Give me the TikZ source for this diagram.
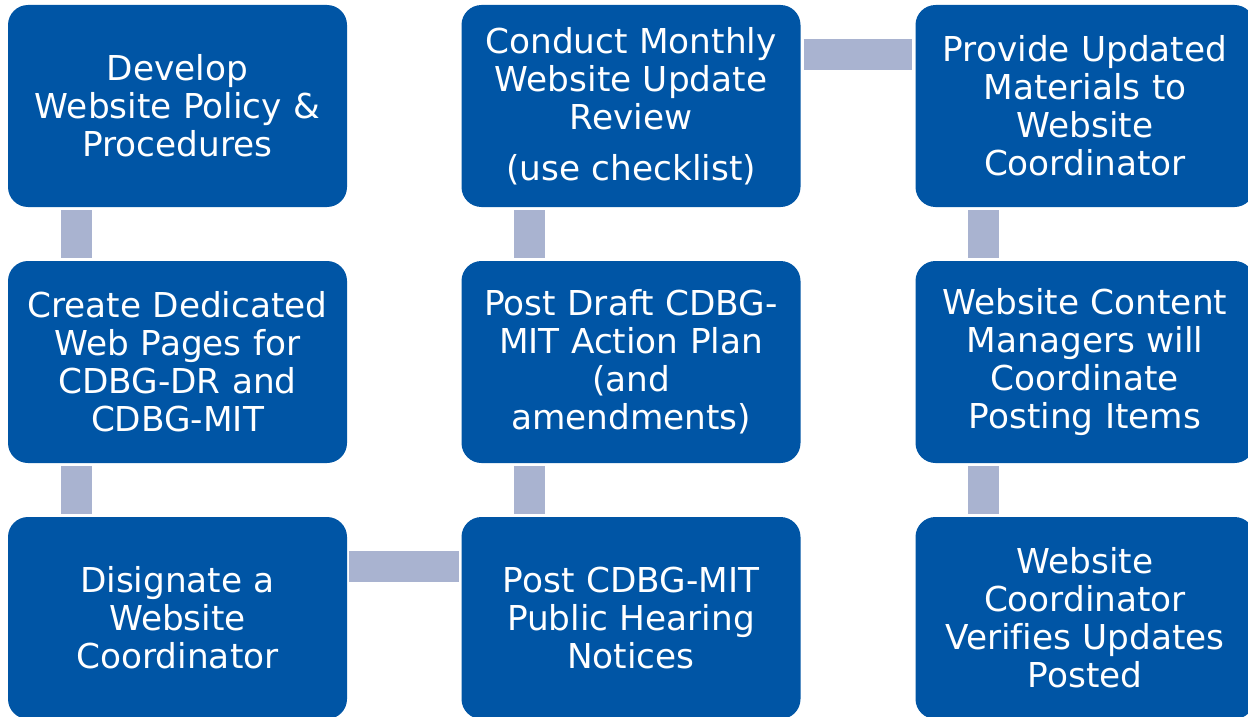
\documentclass[tikz,border=0pt]{standalone}
\usepackage{fontspec}
\setmainfont{DejaVu Sans}[Ligatures=NoCommon]
\definecolor{boxblue}{RGB}{0,85,165}
\definecolor{connblue}{RGB}{169,179,208}
\tikzset{
  stepbox/.style={rectangle, rounded corners=20pt, fill=boxblue, draw=none,
    minimum width=339pt, minimum height=202pt, inner sep=0pt,
    text=white, text width=336pt, align=center,
    font=\fontsize{34.3}{38}\selectfont},
  conn/.style={draw=connblue, line width=31pt}
}
\begin{document}
\begin{tikzpicture}[x=1pt,y=-1pt]
\useasboundingbox (0,0) rectangle (1248,717);
\clip (0,0) rectangle (1248,717);
\node[stepbox] (a1) at (177.5,106) {Develop\\Website Policy \&\\Procedures};
\node[stepbox] (a2) at (177.5,362) {Create Dedicated\\Web Pages for\\CDBG-DR and\\CDBG-MIT};
\node[stepbox] (a3) at (177.5,618) {Disignate a\\Website\\Coordinator};
\node[stepbox] (b1) at (631,106) {Conduct Monthly\\Website Update\\Review\\[13pt](use checklist)};
\node[stepbox] (b2) at (631,362) {Post Draft CDBG-\\MIT Action Plan\\(and\\amendments)};
\node[stepbox] (b3) at (631,618) {Post CDBG-MIT\\Public Hearing\\Notices};
\node[stepbox] (c1) at (1085,106) {Provide Updated\\Materials to\\Website\\Coordinator};
\node[stepbox] (c2) at (1085,362) {Website Content\\Managers will\\Coordinate\\Posting Items};
\node[stepbox] (c3) at (1085,618) {Website\\Coordinator\\Verifies Updates\\Posted};
% connectors
\draw[conn] ([xshift=68.5pt,yshift=-3pt]a1.south west) -- ([xshift=68.5pt,yshift=3pt]a2.north west);
\draw[conn] ([xshift=68.5pt,yshift=-3pt]a2.south west) -- ([xshift=68.5pt,yshift=3pt]a3.north west);
\draw[conn] ([xshift=2pt,yshift=-49.5pt]a3.north east) -- ([xshift=-2pt,yshift=-49.5pt]b3.north west);
\draw[conn] ([xshift=68.5pt,yshift=3pt]b3.north west) -- ([xshift=68.5pt,yshift=-3pt]b2.south west);
\draw[conn] ([xshift=68.5pt,yshift=3pt]b2.north west) -- ([xshift=68.5pt,yshift=-3pt]b1.south west);
\draw[conn] ([xshift=3pt,yshift=-49.5pt]b1.north east) -- ([xshift=-3pt,yshift=-49.5pt]c1.north west);
\draw[conn] ([xshift=68.5pt,yshift=-3pt]c1.south west) -- ([xshift=68.5pt,yshift=3pt]c2.north west);
\draw[conn] ([xshift=68.5pt,yshift=-3pt]c2.south west) -- ([xshift=68.5pt,yshift=3pt]c3.north west);
\end{tikzpicture}
\end{document}
